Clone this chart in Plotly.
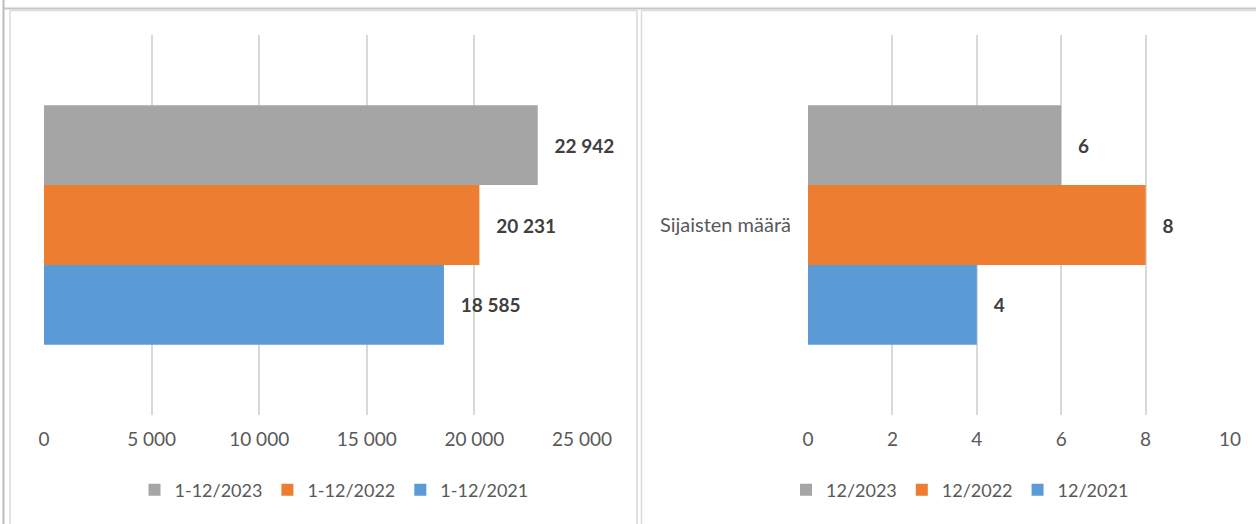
import plotly.graph_objects as go

# ---- data ----
left_category = ["Sijaisten päivät"]
left_series = ["1-12/2021", "1-12/2022", "1-12/2023"]
left_values = [18585, 20231, 22942]

right_category = ["Sijaisten määrä"]
right_series = ["12/2021", "12/2022", "12/2023"]
right_values = [4, 8, 6]

colors = ["#5b9bd5", "#ed7d31", "#a5a5a5"]

W, H = 1256, 524
FONT = "Lato"
TICK_COLOR = "#595959"
LABEL_COLOR = "#404040"
GRID = "#d9d9d9"

def px_x(p):
    return p / W

def px_y(p):
    return 1 - p / H

fig = go.Figure()

NB = "\u00a0\u00a0\u00a0"
for name, val, col in zip(left_series, left_values, colors):
    fig.add_trace(go.Bar(
        y=left_category, x=[val], name=name, orientation="h",
        marker=dict(color=col, line=dict(width=0)),
        texttemplate="<b>" + NB + "%{x:,d}</b>", textposition="outside",
        textfont=dict(family=FONT, size=19, color=LABEL_COLOR),
        cliponaxis=False, constraintext="none",
        xaxis="x", yaxis="y", legend="legend", hoverinfo="skip",
    ))
for name, val, col in zip(right_series, right_values, colors):
    fig.add_trace(go.Bar(
        y=right_category, x=[val], name=name, orientation="h",
        marker=dict(color=col, line=dict(width=0)),
        texttemplate="<b>" + NB + "%{x:,d}</b>", textposition="outside",
        textfont=dict(family=FONT, size=19, color=LABEL_COLOR),
        cliponaxis=False, constraintext="none",
        xaxis="x2", yaxis="y2", legend="legend2", hoverinfo="skip",
    ))

axis_common = dict(
    showgrid=True, gridcolor=GRID, gridwidth=2, zeroline=False, showline=False,
    ticks="", tickfont=dict(family=FONT, size=19, color=TICK_COLOR),
    ticklabelstandoff=11, fixedrange=True, automargin=False,
)

ydom = [px_y(415), px_y(35)]

fig.update_layout(
    width=W, height=H, autosize=False,
    margin=dict(l=0, r=0, t=0, b=0, pad=0, autoexpand=False),
    paper_bgcolor="white", plot_bgcolor="white",
    separators=", ",
    barmode="group", bargap=0.37, bargroupgap=0,
    font=dict(family=FONT, size=18, color=TICK_COLOR),
    xaxis=dict(domain=[px_x(44), px_x(582)], range=[0, 25000], dtick=5000,
               tickformat=",d", anchor="y", **axis_common),
    yaxis=dict(domain=ydom, anchor="x", showticklabels=False, showgrid=False,
               zeroline=False, showline=False, ticks="", fixedrange=True,
               automargin=False),
    xaxis2=dict(domain=[px_x(808), px_x(1230)], range=[0, 10], dtick=2,
                anchor="y2", **axis_common),
    yaxis2=dict(domain=ydom, anchor="x2", showgrid=False, zeroline=False,
                showline=False, ticks="", ticklabelstandoff=16,
                tickfont=dict(family=FONT, size=20, color=TICK_COLOR),
                fixedrange=True, automargin=False),
    legend=dict(orientation="h", x=px_x(334), xanchor="center",
                y=px_y(490), yanchor="middle", traceorder="reversed",
                itemwidth=30,
                font=dict(family=FONT, size=18, color=TICK_COLOR),
                bgcolor="rgba(0,0,0,0)", itemclick=False, itemdoubleclick=False),
    legend2=dict(orientation="h", x=px_x(960), xanchor="center",
                 y=px_y(490), yanchor="middle", traceorder="reversed",
                 itemwidth=30,
                 font=dict(family=FONT, size=18, color=TICK_COLOR),
                 bgcolor="rgba(0,0,0,0)", itemclick=False, itemdoubleclick=False),
    showlegend=True,
)

def hline(x0, x1, y, color, width):
    return dict(type="line", xref="paper", yref="paper",
                x0=px_x(x0), x1=px_x(x1), y0=px_y(y), y1=px_y(y),
                line=dict(color=color, width=width))

def vline(x, y0, y1, color, width):
    return dict(type="line", xref="paper", yref="paper",
                x0=px_x(x), x1=px_x(x), y0=px_y(y0), y1=px_y(y1),
                line=dict(color=color, width=width))

PANEL = "#d9d9d9"
shapes = [
    # outer frame
    vline(3.5, 0, H, "#bdbdbd", 2),
    hline(3, W, 8.5, "#c6c6c6", 2),
    # left panel
    vline(10, 10.5, H, PANEL, 1.5),
    hline(10, 637, 10.5, PANEL, 1.5),
    vline(637, 10.5, H, PANEL, 1.5),
    # right panel
    vline(641.5, 10.5, H, PANEL, 1.5),
    hline(641.5, W, 10.5, PANEL, 1.5),
]
fig.update_layout(shapes=shapes)

fig.write_html(
    "out.html",
    config={"displayModeBar": False, "responsive": False},
    post_script="document.body.style.margin='0';document.body.style.padding='0';"
                "document.body.style.overflow='hidden';",
)
